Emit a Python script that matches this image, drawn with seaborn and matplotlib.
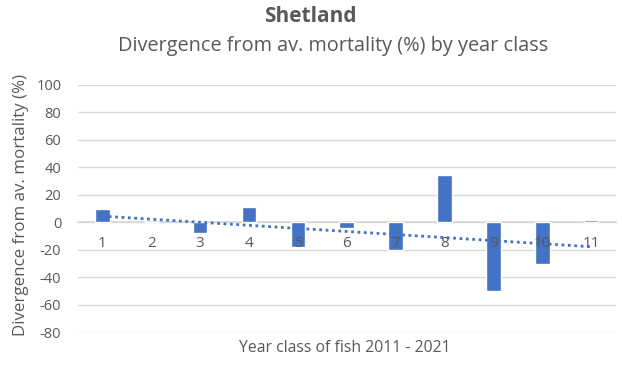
import numpy as np
import pandas as pd
import matplotlib
matplotlib.use("Agg")
import matplotlib.pyplot as plt
import seaborn as sns

# Year classes (2011-2021 numbered 1..11) and divergence from average mortality (%)
year_class = ["1", "2", "3", "4", "5", "6", "7", "8", "9", "10", "11"]
divergence = [10, 0, -8, 11, -18, -4, -20, 34, -50, -30, 1.5]
y_ticks = [100, 80, 60, 40, 20, 0, -20, -40, -60, -80]

title = "Shetland"
subtitle = "Divergence from av. mortality (%) by year class"
x_label = "Year class of fish 2011 - 2021"
y_label = "Divergence from av. mortality (%)"

bar_color = "#4472C4"
text_color = "#595959"
grid_color = "#D9D9D9"

sns.set_theme(style="white")
plt.rcParams["font.family"] = ["Open Sans", "DejaVu Sans"]

df = pd.DataFrame({"year_class": year_class, "divergence": divergence})

fig = plt.figure(figsize=(6.22, 3.78), dpi=100)
ax = fig.add_axes([78 / 622, 1 - 332.3 / 378, (615.5 - 78) / 622, (332.3 - 84.7) / 378])

sns.barplot(data=df, x="year_class", y="divergence", color=bar_color,
            width=0.3, saturation=1, ax=ax, zorder=3)

# Linear trendline across the year classes
xs = np.arange(len(divergence))
slope, intercept = np.polyfit(xs + 1, divergence, 1)
ax.plot(xs, slope * (xs + 1) + intercept, linestyle=(0, (1, 1.3)),
        color=bar_color, linewidth=2.0, zorder=4)

ax.set_ylim(-80, 100)
ax.set_xlim(-0.5, len(year_class) - 0.5)
ax.set_yticks(y_ticks)
ax.set_yticklabels([str(t) for t in y_ticks])
ax.yaxis.grid(True, color=grid_color, linewidth=1.0)
ax.set_axisbelow(True)
# Category labels are drawn over the bars
ax.xaxis.set_zorder(5)

for s in ["top", "right", "left"]:
    ax.spines[s].set_visible(False)
# Category labels sit next to the zero line
ax.spines["bottom"].set_position(("data", 0))
ax.spines["bottom"].set_color(grid_color)
ax.spines["bottom"].set_zorder(1)
ax.tick_params(axis="x", length=0, pad=10, labelsize=11, labelcolor=text_color)
ax.tick_params(axis="y", length=0, pad=12, labelsize=10.5, labelcolor=text_color)
for lbl in ax.get_yticklabels():
    lbl.set_horizontalalignment("right")

ax.set_xlabel("")
ax.set_ylabel("")
fig.text(345 / 622, 1 - 348 / 378, x_label, ha="center", va="center",
         fontsize=11.3, color=text_color)
fig.text(21 / 622, 1 - 205 / 378, y_label, ha="center", va="center",
         rotation=90, fontsize=12.2, color=text_color)

fig.text(310 / 622, 1 - 16 / 378, title, ha="center", va="center",
         fontsize=15, fontweight="bold", color=text_color)
fig.text(333 / 622, 1 - 46 / 378, subtitle, ha="center", va="center",
         fontsize=14.3, color=text_color)

fig.savefig("out.png", dpi=100)
